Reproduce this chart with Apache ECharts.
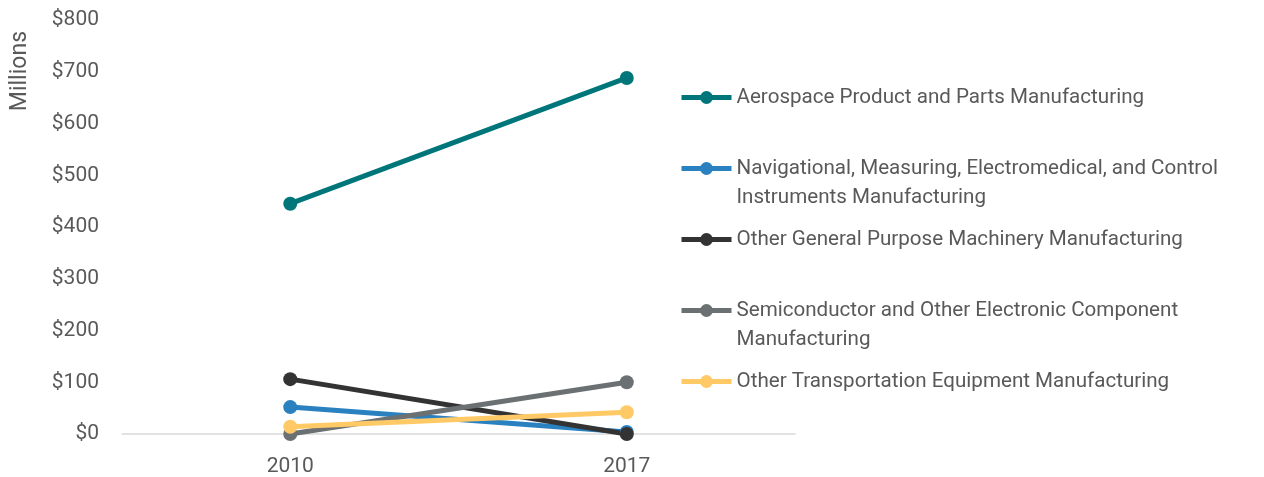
<!DOCTYPE html>
<html style="height: 100%">
<head>
    <meta charset="utf-8">
    <script src="https://cdn.jsdelivr.net/npm/echarts@6/dist/echarts.min.js"></script>
    <title>Manufacturing by industry</title>
</head>
<body style="height: 100%; margin: 0; background: #fff">
<div id="container" style="width: 1264px; height: 477px"></div>
<script type="text/javascript">
    let years = ['2010', '2017']
    let seriesNames = [
        'Aerospace Product and Parts Manufacturing',
        'Navigational, Measuring, Electromedical, and Control\nInstruments Manufacturing',
        'Other General Purpose Machinery Manufacturing',
        'Semiconductor and Other Electronic Component\nManufacturing',
        'Other Transportation Equipment Manufacturing'
    ]
    let aerospace = [445, 688]
    let navigational = [52, 4]
    let generalMachinery = [106, 0]
    let semiconductor = [0, 100]
    let transportation = [14, 42]
    let colors = ['#00767a', '#2a81c0', '#333333', '#6b7072', '#ffc966']

    let font = 'Roboto'
    let textColor = '#595959'

    let allValues = [aerospace, navigational, generalMachinery, semiconductor, transportation]
    let series = []
    for (let i in allValues) {
        series.push({
            name: seriesNames[i],
            type: 'line',
            data: allValues[i],
            symbol: 'circle',
            symbolSize: 14,
            lineStyle: {width: 5, color: colors[i]},
            itemStyle: {color: colors[i]},
            emphasis: {disabled: true}
        })
    }

    let dom = document.getElementById("container");
    let chart = echarts.init(dom);
    chart.setOption({
        animation: false,
        color: colors,
        grid: {left: 122, right: 469, top: 20, bottom: 43},
        xAxis: {
            type: 'category',
            data: years,
            boundaryGap: true,
            axisLine: {lineStyle: {color: '#d9d9d9', width: 1.5}},
            axisTick: {show: false},
            axisLabel: {color: textColor, fontFamily: font, fontSize: 21, margin: 22}
        },
        yAxis: {
            type: 'value',
            min: 0,
            max: 800,
            interval: 100,
            splitLine: {show: false},
            axisLine: {show: false},
            axisTick: {show: false},
            axisLabel: {
                color: textColor, fontFamily: font, fontSize: 21, margin: 23,
                formatter: v => '$' + v
            }
        },
        legend: {
            orient: 'vertical',
            left: 674,
            top: 78,
            itemWidth: 50,
            itemHeight: 16,
            itemGap: 13,
            selectedMode: false,
            lineStyle: {width: 5},
            // leading blank line keeps the marker on the first text line
            formatter: name => name.indexOf('\n') >= 0 ? '\n' + name : name,
            textStyle: {color: textColor, fontFamily: font, fontSize: 20.6, lineHeight: 29}
        },
        graphic: [{
            type: 'text',
            left: 9,
            top: 31,
            rotation: Math.PI / 2,
            style: {text: 'Millions', fill: textColor, font: '23px ' + font}
        }],
        series: series
    }, true);
</script>
</body>
</html>
